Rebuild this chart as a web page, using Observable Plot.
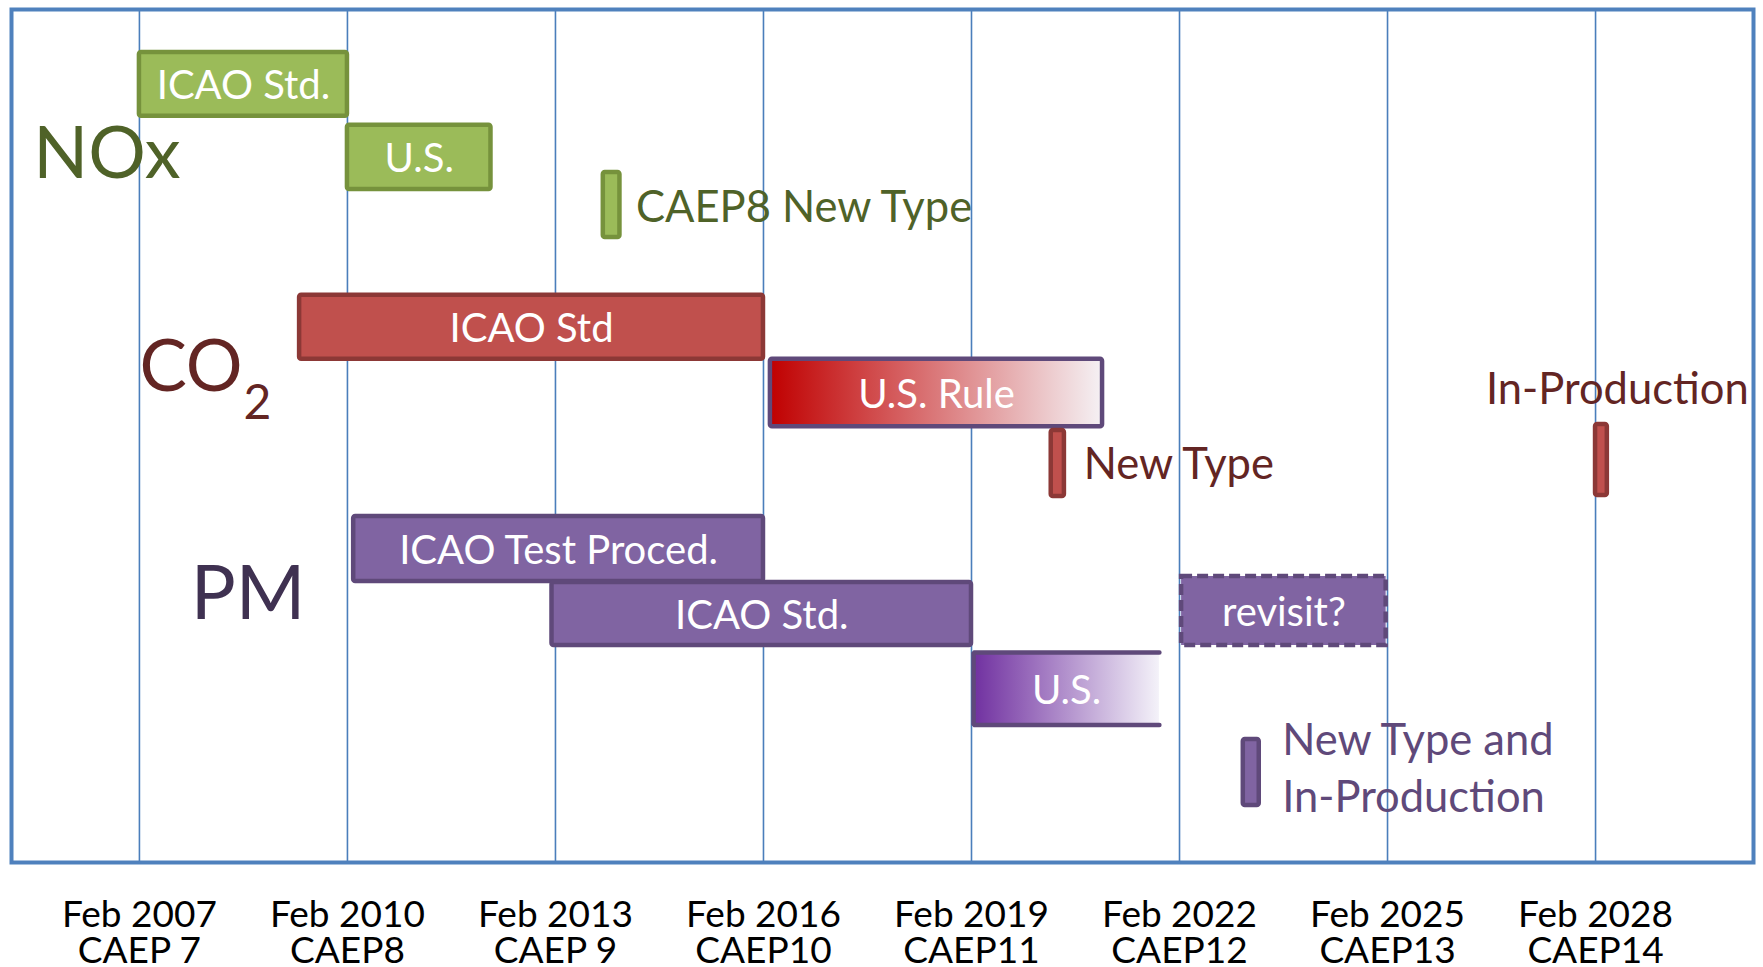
<!DOCTYPE html>
<html><head><meta charset="utf-8">
<script src="https://cdn.jsdelivr.net/npm/d3@7"></script>
<script src="https://cdn.jsdelivr.net/npm/@observablehq/plot@0.6"></script>
<style>html,body{margin:0;padding:0;background:#fff;overflow:hidden}</style>
</head><body><div id="chart"></div>
<script>
// Axis ticks (year of CAEP meeting)
const tickYears = [2007, 2010, 2013, 2016, 2019, 2022, 2025, 2028];
const tickDates = ["Feb 2007","Feb 2010","Feb 2013","Feb 2016","Feb 2019","Feb 2022","Feb 2025","Feb 2028"];
const tickMeetings = ["CAEP 7","CAEP8","CAEP 9","CAEP10","CAEP11","CAEP12","CAEP13","CAEP14"];

// Timeline bars (x in years, y in lanes from top)
const barLabels = ["ICAO Std.","U.S.","ICAO Std","U.S. Rule","ICAO Test Proced.","ICAO Std.","U.S.","revisit?"];
const barGroups = ["NOx","NOx","CO2","CO2","PM","PM","PM","PM"];
const barKinds  = ["solid","solid","solid","gradient","solid","solid","open","dashed"];
const barStart  = [2007.0, 2010.0, 2009.31, 2016.1, 2010.09, 2012.95, 2019.03, 2022.03];
const barEnd    = [2010.0, 2012.07, 2016.0, 2020.89, 2016.0, 2019.0, 2021.71, 2024.98];
const barTop    = [4.3, 11.57, 28.57, 34.97, 50.7, 57.3, 64.3, 56.7];
const barBottom = [10.67, 18.0, 34.97, 41.73, 57.2, 63.6, 71.55, 63.6];

// Milestones (thin bars with side labels)
const msLabels  = ["CAEP8 New Type","New Type","In-Production","New Type and\nIn-Production"];
const msGroups  = ["NOx","CO2","CO2","PM"];
const msStart   = [2013.69, 2020.15, 2028.0, 2022.92];
const msEnd     = [2013.93, 2020.34, 2028.17, 2023.15];
const msTop     = [16.3, 42.1, 41.5, 73.0];
const msBottom  = [22.8, 48.7, 48.6, 79.6];
const msLabelX  = [2014.16, 2020.62, 2026.42, 2023.48];
const msLabelY  = [19.4, 45.1, 37.6, 75.6];

// Pollutant group titles
const groupTitles = ["NOx","CO","2","PM"];
const groupX = [2005.47, 2007.0, 2008.5, 2007.74];
const groupY = [14.5, 35.9, 39.4, 58.5];

const fills   = {NOx: "#9bbb59", CO2: "#c0504d", PM: "#8064a2"};
const strokes = {NOx: "#76923c", CO2: "#8c3836", PM: "#5f497a"};
const textCol = {NOx: "#4f6228", CO2: "#632523", PM: "#5f497a"};

const bars = barLabels.map((label, i) => ({
  label, group: barGroups[i], kind: barKinds[i],
  x1: barStart[i], x2: barEnd[i], y1: barTop[i], y2: barBottom[i]
}));
const milestones = msLabels.map((label, i) => ({
  label, group: msGroups[i], x1: msStart[i], x2: msEnd[i], y1: msTop[i], y2: msBottom[i],
  lx: msLabelX[i], ly: msLabelY[i]
}));
const openBorders = bars.filter(b => b.kind === "open").flatMap(b => [
  {x: b.x2, y: b.y1}, {x: b.x1, y: b.y1}, {x: b.x1, y: b.y2}, {x: b.x2, y: b.y2}
]);
const tickText = new Map(tickYears.map((y, i) => [y, tickDates[i] + "\n" + tickMeetings[i]]));

function gradients() {
  const defs = d3.create("svg:defs");
  const add = (id, from, to) => {
    const g = defs.append("linearGradient").attr("id", id)
      .attr("x1", 0).attr("x2", 1).attr("y1", 0).attr("y2", 0);
    g.append("stop").attr("offset", 0).attr("stop-color", from);
    g.append("stop").attr("offset", 1).attr("stop-color", to);
  };
  add("gradRed", "#c00000", "#f5f1f4");
  add("gradPurple", "#7030a0", "#f4f2f9");
  return defs.node();
}

const chart = Plot.plot({
  width: 1763, height: 967,
  marginLeft: 11, marginRight: 10, marginTop: 9, marginBottom: 105,
  style: {fontFamily: "Lato, 'Open Sans', sans-serif", background: "white"},
  x: {domain: [2005.155, 2030.278]},
  y: {domain: [0, 85.3], reverse: true, axis: null},
  color: {type: "identity"},
  marks: [
    gradients,
    Plot.ruleX(tickYears, {stroke: "#4a7ebb", strokeWidth: 1.6}),
    Plot.rect(bars.filter(b => b.kind === "solid"), {
      x1: "x1", x2: "x2", y1: "y1", y2: "y2",
      fill: d => fills[d.group], stroke: d => strokes[d.group], strokeWidth: 4.5, rx: 2
    }),
    Plot.rect(bars.filter(b => b.kind === "gradient"), {
      x1: "x1", x2: "x2", y1: "y1", y2: "y2",
      fill: "url(#gradRed)", stroke: "#5f497a", strokeWidth: 4.5, rx: 2
    }),
    Plot.rect(bars.filter(b => b.kind === "open"), {
      x1: "x1", x2: "x2", y1: "y1", y2: "y2", fill: "url(#gradPurple)"
    }),
    Plot.line(openBorders, {x: "x", y: "y", stroke: "#5f497a", strokeWidth: 4.5, strokeLinejoin: "miter"}),
    Plot.rect(bars.filter(b => b.kind === "dashed"), {
      x1: "x1", x2: "x2", y1: "y1", y2: "y2",
      fill: d => fills[d.group], stroke: "#5f497a", strokeWidth: 4.5, strokeDasharray: "11,5"
    }),
    Plot.text(bars, {
      x: d => (d.x1 + d.x2) / 2, y: d => (d.y1 + d.y2) / 2, text: "label",
      fill: "white", fontSize: 40, lineAnchor: "middle", dy: 2
    }),
    Plot.rect(milestones, {
      x1: "x1", x2: "x2", y1: "y1", y2: "y2",
      fill: d => fills[d.group], stroke: d => strokes[d.group], strokeWidth: 4.5, rx: 2
    }),
    Plot.text(milestones, {
      x: "lx", y: "ly", text: "label", textAnchor: "start", lineAnchor: "middle",
      fill: d => textCol[d.group], fontSize: 43.5, lineHeight: 1.3
    }),
    Plot.text([groupTitles[0]], {x: [groupX[0]], y: [groupY[0]], text: d => d, textAnchor: "start", lineAnchor: "middle", fill: "#4f6228", fontSize: 72}),
    Plot.text([groupTitles[1]], {x: [groupX[1]], y: [groupY[1]], text: d => d, textAnchor: "start", lineAnchor: "middle", fill: "#632523", fontSize: 71}),
    Plot.text([groupTitles[2]], {x: [groupX[2]], y: [groupY[2]], text: d => d, textAnchor: "start", lineAnchor: "middle", fill: "#632523", fontSize: 48}),
    Plot.text([groupTitles[3]], {x: [groupX[3]], y: [groupY[3]], text: d => d, textAnchor: "start", lineAnchor: "middle", fill: "#3f3151", fontSize: 75}),
    Plot.frame({stroke: "#4f81bd", strokeWidth: 4}),
    Plot.axisX(tickYears, {
      tickSize: 0, tickPadding: 39, tickFormat: d => tickText.get(d),
      fontSize: 37, lineHeight: 0.973, fill: "black"
    })
  ]
});
document.getElementById("chart").append(chart);
</script>
</body></html>
